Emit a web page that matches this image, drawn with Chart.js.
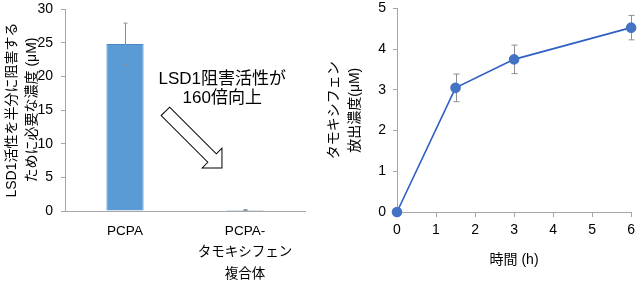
<!DOCTYPE html>
<html>
<head>
<meta charset="utf-8">
<script src="https://cdn.jsdelivr.net/npm/chart.js@4"></script>
<style>
  body { margin: 0; background: #fff; }
  .wrap { display: flex; width: 640px; height: 285px; }
  canvas { display: block; }
</style>
</head>
<body>
<div class="wrap">
  <canvas id="ic50Chart" width="320" height="285"></canvas>
  <canvas id="releaseChart" width="320" height="285"></canvas>
</div>
<script>
// left: IC50 bars
const barLabels = [["PCPA"], ["PCPA-", "タモキシフェン", "複合体"]];
const barValues = [24.8, 0.15];
const barErrors = [3.1, 0.05];
const barTicks = [0, 5, 10, 15, 20, 25, 30];

// right: release over time
const timeValues = [0, 1.5, 3, 6];
const releaseValues = [0, 3.05, 3.75, 4.53];
const releaseErrors = [0, 0.34, 0.35, 0.3];
const timeTicks = [0, 1, 2, 3, 4, 5, 6];
const releaseTicks = [0, 1, 2, 3, 4, 5];

const FONT = "'Liberation Sans', Arial, 'Noto Sans CJK JP', sans-serif";
Chart.defaults.font.family = FONT;
Chart.defaults.color = "#000";
Chart.defaults.animation = false;

const axisGray = "#a6a6a6";

// gray error bars from the error arrays
function errorBarPlugin(errors, capHalf, behind) {
  const draw = (chart) => {
    const meta = chart.getDatasetMeta(0);
    const y = chart.scales.y;
    const ctx = chart.ctx;
    ctx.save();
    ctx.strokeStyle = "#8f8f8f";
    ctx.lineWidth = 1;
    meta.data.forEach((el, i) => {
      const v = chart.data.datasets[0].data[i];
      const val = typeof v === "object" ? v.y : v;
      const e = errors[i];
      if (!e) return;
      const x = Math.round(el.x) + 0.5;
      const top = y.getPixelForValue(val + e);
      const bot = y.getPixelForValue(val - e);
      ctx.beginPath();
      ctx.moveTo(x, top); ctx.lineTo(x, bot);
      ctx.moveTo(x - capHalf, top); ctx.lineTo(x + capHalf, top);
      ctx.moveTo(x - capHalf, bot); ctx.lineTo(x + capHalf, bot);
      ctx.stroke();
    });
    ctx.restore();
  };
  return behind ? { id: "errbars", beforeDatasetsDraw: draw } : { id: "errbars", afterDatasetsDraw: draw };
}

// text + hollow arrow on the bar chart
const notePlugin = {
  id: "note",
  afterDraw(chart) {
    const xs = chart.scales.x, ys = chart.scales.y, ctx = chart.ctx;
    ctx.save();
    ctx.fillStyle = "#000";
    ctx.font = "17px " + FONT;
    ctx.textAlign = "center";
    ctx.textBaseline = "middle";
    const tx = xs.getPixelForValue(0.81);
    ctx.fillText("LSD1阻害活性が", tx, ys.getPixelForValue(19.6));
    ctx.fillText("160倍向上", tx, ys.getPixelForValue(16.8));

    const tipX = xs.getPixelForValue(0.808), tipY = ys.getPixelForValue(6.4);
    const len = 80, shaftW = 12, headW = 28, headL = 14;
    ctx.translate(tipX, tipY);
    ctx.rotate(Math.PI / 4);
    ctx.beginPath();
    ctx.moveTo(0, 0);
    ctx.lineTo(-headL, -headW / 2);
    ctx.lineTo(-headL, -shaftW / 2);
    ctx.lineTo(-len, -shaftW / 2);
    ctx.lineTo(-len, shaftW / 2);
    ctx.lineTo(-headL, shaftW / 2);
    ctx.lineTo(-headL, headW / 2);
    ctx.closePath();
    ctx.fillStyle = "#fff";
    ctx.fill();
    ctx.strokeStyle = "#000";
    ctx.lineWidth = 1;
    ctx.stroke();
    ctx.restore();
  }
};

new Chart(document.getElementById("ic50Chart"), {
  type: "bar",
  data: {
    labels: barLabels,
    datasets: [{
      data: barValues,
      backgroundColor: "#5b9bd5",
      borderColor: "#4a86c2",
      borderWidth: 1,
      categoryPercentage: 1,
      barPercentage: 0.31
    }]
  },
  options: {
    responsive: false,
    layout: { padding: { left: 0, top: 9, right: 15, bottom: 0 } },
    plugins: { legend: { display: false }, tooltip: { enabled: false } },
    scales: {
      x: {
        grid: { display: false },
        border: { color: axisGray, width: 1 },
        ticks: { font: { size: 13.5, lineHeight: 1.6 }, padding: 1, maxRotation: 0 },
        afterFit: (s) => { s.height = 74; }
      },
      y: {
        min: 0, max: 30,
        afterBuildTicks: (s) => { s.ticks = barTicks.map(v => ({ value: v })); },
        grid: { drawOnChartArea: false, color: axisGray, tickLength: 4 },
        border: { color: axisGray, width: 1 },
        ticks: { font: { size: 14 }, padding: 8 },
        title: {
          display: true,
          text: ["LSD1活性を半分に阻害する", "ために必要な濃度 (μM)"],
          font: { size: 14, lineHeight: 1.45 },
          padding: { top: 2 }
        },
        afterFit: (s) => { s.width = 65; s.paddingTop = 0; s.paddingBottom = 0; }
      }
    }
  },
  plugins: [errorBarPlugin(barErrors, 2, false), notePlugin]
});

new Chart(document.getElementById("releaseChart"), {
  type: "line",
  data: {
    datasets: [{
      data: timeValues.map((t, i) => ({ x: t, y: releaseValues[i] })),
      borderColor: "#2f5fc2",
      borderWidth: 1.6,
      backgroundColor: "#4472c4",
      pointBackgroundColor: "#4472c4",
      pointBorderColor: "#4472c4",
      pointRadius: 4.5,
      tension: 0
    }]
  },
  options: {
    responsive: false,
    layout: { padding: { left: 0, top: 8.5, right: 7, bottom: 0 } },
    plugins: { legend: { display: false }, tooltip: { enabled: false } },
    clip: false,
    scales: {
      x: {
        type: "linear", min: 0, max: 6,
        afterBuildTicks: (s) => { s.ticks = timeTicks.map(v => ({ value: v })); },
        grid: { drawOnChartArea: false, color: axisGray, tickLength: 5 },
        border: { color: axisGray, width: 1 },
        ticks: { font: { size: 14 }, padding: 5 },
        title: { display: true, text: "時間 (h)", font: { size: 14 }, padding: { top: 0, bottom: 16 } },
        afterFit: (s) => { s.height = 73; }
      },
      y: {
        min: 0, max: 5,
        afterBuildTicks: (s) => { s.ticks = releaseTicks.map(v => ({ value: v })); },
        grid: { drawOnChartArea: false, color: axisGray, tickLength: 4 },
        border: { color: axisGray, width: 1 },
        ticks: { font: { size: 14 }, padding: 7 },
        title: {
          display: true,
          text: ["タモキシフェン", "放出濃度(μM)"],
          font: { size: 14, lineHeight: 1.5 },
          padding: { top: 4 }
        },
        afterFit: (s) => { s.width = 77; s.paddingTop = 0; s.paddingBottom = 0; }
      }
    }
  },
  plugins: [errorBarPlugin(releaseErrors, 3, true)]
});
</script>
</body>
</html>
